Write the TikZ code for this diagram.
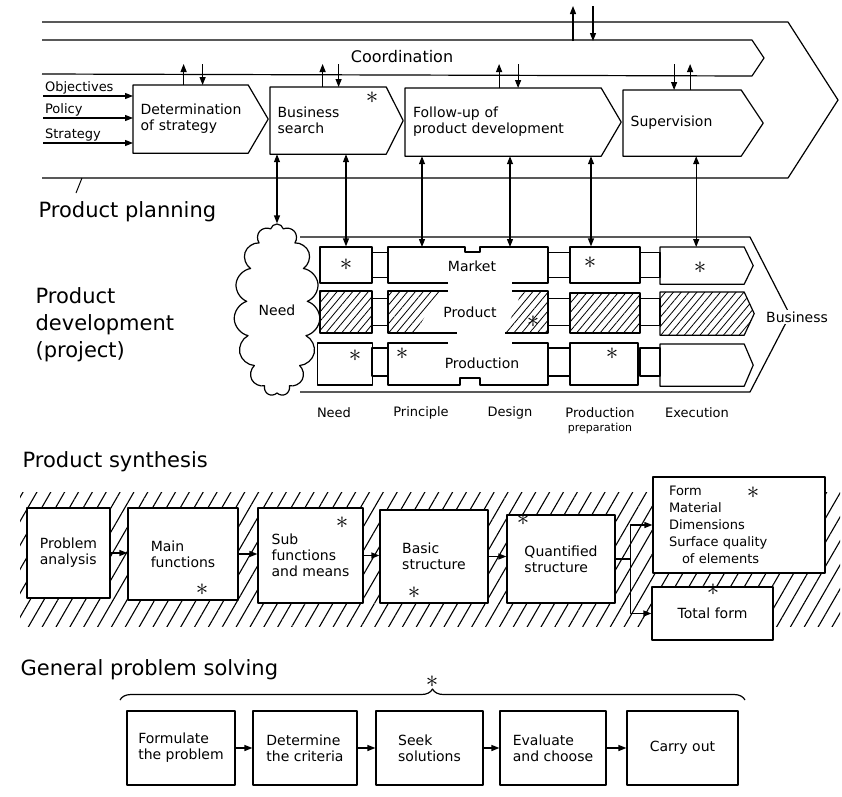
\documentclass[tikz,border=0pt]{standalone}
\usepackage{fontspec}
\setmainfont{DejaVu Sans}
\usetikzlibrary{arrows.meta,positioning,shapes.symbols,patterns.meta,decorations.pathreplacing}

% pentagon round a named node; #3 is the depth of its point
\newcommand{\tipbox}[3][]{%
  \draw[#1] (#2.north west) -- ([xshift=-#3]#2.north east) -- (#2.east)
        -- ([xshift=-#3]#2.south east) -- (#2.south west) -- cycle;}

\begin{document}
\begin{tikzpicture}[
  x=1pt, y=-1pt, line width=1.2pt, line join=round,
  >={Triangle[length=8pt,width=6pt]},
  font=\fontsize{14}{16}\selectfont,
  title/.style={font=\fontsize{21}{27}\selectfont, align=left, anchor=west, inner sep=0pt},
  P/.style={minimum height=#1, anchor=north west, inner xsep=7pt, align=left},
  B/.style={draw, fill=white, align=left, inner sep=3pt},
  lk/.style={draw, inner sep=0pt},
  W/.style={fill=white},
  hatch/.style={pattern={Lines[angle=50,distance=6pt,line width=0.8pt]}},
  ground/.style={pattern={Lines[angle=60,distance=12pt,line width=1.1pt]}},
  ast/.style={font=\fontsize{29}{29}\selectfont, inner sep=0pt},
  small/.style={font=\fontsize{13}{14}\selectfont},
]
\useasboundingbox (0,0) rectangle (842,796);

%% product planning
\draw (42,22) -- (788,22) -- (838,100) -- (788,178) -- (42,178);
\draw (42,40) -- (752,40) -- (764,58) -- (752,76) -- (42,74);
\node[font=\fontsize{16}{18}\selectfont] (coord) at (402,57) {Coordination};

\node[P=67, minimum width=134, text width=120] (dstrat) at (133,85) {Determination\\of strategy};
\node[P=66, minimum width=132, text width=118] (bsearch) at (270,87) {Business\\search};
\node[P=67, minimum width=215, text width=200] (fup) at (405,88) {Follow-up of\\product development};
\node[P=65, minimum width=139, text width=125] (superv) at (623,90) {Supervision};
\tipbox{dstrat}{20} \tipbox{bsearch}{17} \tipbox{fup}{20} \tipbox{superv}{22}
\node[ast] (bs0) at (372,98) {$\ast$};

\foreach \t/\y [count=\i] in {Objectives/96, Policy/118, Strategy/143}{
  \node[small, anchor=south west, inner sep=1.5pt] (in\i) at (43,\y) {\t};
  \draw[->] (in\i.south west) -- (in\i.south west -| dstrat.west);
}

% up and down between coordination and the steps
\coordinate (cup) at (0,64);
\foreach \n/\u/\d in {dstrat/-17/2, bsearch/-14/2, fup/-14/5, superv/-3/-19}{
  \draw[->] ([xshift=\u]\n.north) -- ([xshift=\u]\n.north |- cup);
  \draw[->] ([xshift=\d]\n.north |- cup) -- ([xshift=\d]\n.north);
}
\coordinate (ou1) at (573,41); \coordinate (ou2) at (573,6);
\coordinate (od1) at (593,6);  \coordinate (od2) at (593,41);
\draw[->] (ou1) -- (ou2);
\draw[->] (od1) -- (od2);

\draw[line width=1pt] (82,178) -- (76,193);
\node[title] (plan) at (38,212) {Product planning};

%% product development
\node[title] (dev) at (35,325) {Product\\development\\(project)};
\draw (300,237) -- (750,237) -- (790,315) -- (750,392) -- (300,392);
\node[W, inner sep=2pt] (bus) at (797,317) {Business};

% need column
\node[lk, minimum width=52, minimum height=36] (nd1) at (346,265) {};
\node[lk, hatch, minimum width=52, minimum height=42] (nd2) at (346,312) {};
\node[lk, minimum width=55, minimum height=42] (nd3) at (345,364) {};
% production preparation column
\node[lk, minimum width=70, minimum height=36] (pp1) at (605,265) {};
\node[lk, hatch, minimum width=70, minimum height=40] (pp2) at (605,313) {};
\node[lk, minimum width=68, minimum height=42] (pp3) at (604,364) {};
% execution column
\node[P=36, minimum width=92] (ex1) at (660,247) {};
\node[P=42, minimum width=93] (ex2) at (660,292) {};
\node[P=41, minimum width=92] (ex3) at (660,344) {};
\tipbox{ex1}{9} \tipbox[hatch]{ex2}{10} \tipbox{ex3}{9}

% small links between the columns
\foreach \r/\y/\h in {1/265/25, 2/312/27, 3/362/28}{
  \node[lk, minimum width=16, minimum height=\h] (a\r) at (380,\y) {};
  \node[lk, minimum width=22, minimum height=\h] (b\r) at (559,\y) {};
  \node[lk, minimum width=20, minimum height=\h] (c\r) at (650,\y) {};
}

% principle + design, open in the middle
\draw (448,283) -- (388,283) -- (388,247) -- (465,247) -- (465,252) -- (480,252)
      -- (480,247) -- (548,247) -- (548,283) -- (512,283);
\fill[hatch] (388,291) -- (440,291) -- (415,333) -- (388,333) -- cycle;
\draw (448,291) -- (388,291) -- (388,333) -- (457,333);
\fill[hatch] (522,291) -- (548,291) -- (548,333) -- (505,333) -- cycle;
\draw (512,291) -- (548,291) -- (548,333) -- (505,333);
\draw (448,343) -- (388,343) -- (388,385) -- (460,385) -- (460,378) -- (480,378)
      -- (480,385) -- (548,385) -- (548,343) -- (512,343);

\node (mkt) at (472,266) {Market};
\node (prd) at (470,312) {Product};
\node (prn) at (482,363) {Production};

\foreach \p [count=\i] in {(346,265), (590,263), (700,268), (355,356), (402,354), (612,354), (533,322)}
  \node[ast] (ms\i) at \p {$\ast$};

\node[cloud, cloud puffs=15, cloud ignores aspect, draw, W,
      minimum width=86, minimum height=172] (need) at (277,310) {Need};

% planning to development
\coordinate (pr1) at (422,247);
\coordinate (de1) at (510,247);
\draw[<->] (bsearch.south -| need.north) -- (need.north);
\draw[<->] (bsearch.south -| nd1.north) -- (nd1.north);
\draw[<->] (fup.south -| pr1) -- (pr1);
\draw[<->] (fup.south -| de1) -- (de1);
\draw[<->] ([xshift=-14]fup.south -| pp1.north) -- ([xshift=-14]pp1.north);
\draw[<->] ([xshift=-10.4]superv.south -| ex1.north) -- ([xshift=-10.4]ex1.north);

\foreach \t/\x [count=\i] in {Need/334, Principle/421, Design/510, Execution/697}
  \node[small] (st\i) at (\x,413) {\t};
\node[small, align=center, inner sep=0pt] (st5) at (600,421)
     {Production\\{\fontsize{11}{12}\selectfont preparation}};

%% product synthesis
\node[title] (syn) at (22,462) {Product synthesis};
\fill[ground] (20,492) rectangle (840,626);
\node[B, minimum width=83, minimum height=90] (pa) at (68.5,553) {Problem\\analysis};
\node[B, minimum width=110, minimum height=92] (mf) at (183,554) {Main\\functions};
\node[B, minimum width=105, minimum height=95] (sf) at (310.5,555.5) {Sub\\functions\\and means};
\node[B, minimum width=108, minimum height=93] (bs) at (434,556.5) {Basic\\structure};
\node[B, minimum width=108, minimum height=88] (qs) at (561,559) {Quantified\\structure};
\node[B, minimum width=172, minimum height=96, text width=140,
      font=\fontsize{13}{17}\selectfont] (fm) at (739,525)
     {Form\\Material\\Dimensions\\Surface quality\\\hspace*{1em}of elements};
\node[B, minimum width=121, minimum height=53] (tf) at (712.5,613.5) {Total form};

\foreach \a/\b in {pa/mf, mf/sf, sf/bs, bs/qs}
  \draw[->] (\a.east) -- (\a.east -| \b.west);
\draw (qs.east) -- ++(15,0) coordinate (split);
\draw[->] (split) |- (fm.west);
\draw[->] (split) |- (tf.west);

\foreach \p [count=\i] in {(202,590), (342,523), (414,593), (523,520), (753,493), (713,590)}
  \node[ast] (ss\i) at \p {$\ast$};

%% general problem solving
\node[title] (gps) at (20,670) {General problem solving};
\draw[decorate, decoration={brace, amplitude=11pt}] (120,700) -- (745,700);
\node[ast] (gs) at (432,682) {$\ast$};
\node[B, minimum width=108, minimum height=74] (fp) at (181,748) {Formulate\\the problem};
\node[B, minimum width=104, minimum height=74] (dc) at (305,748) {Determine\\the criteria};
\node[B, minimum width=107, minimum height=74] (sk) at (429.5,748) {Seek\\solutions};
\node[B, minimum width=106, minimum height=74] (ec) at (553,748) {Evaluate\\and choose};
\node[B, minimum width=111, minimum height=74] (co) at (682.5,748) {Carry out};
\foreach \a/\b in {fp/dc, dc/sk, sk/ec, ec/co}
  \draw[->] (\a) -- (\b);

\end{tikzpicture}
\end{document}
